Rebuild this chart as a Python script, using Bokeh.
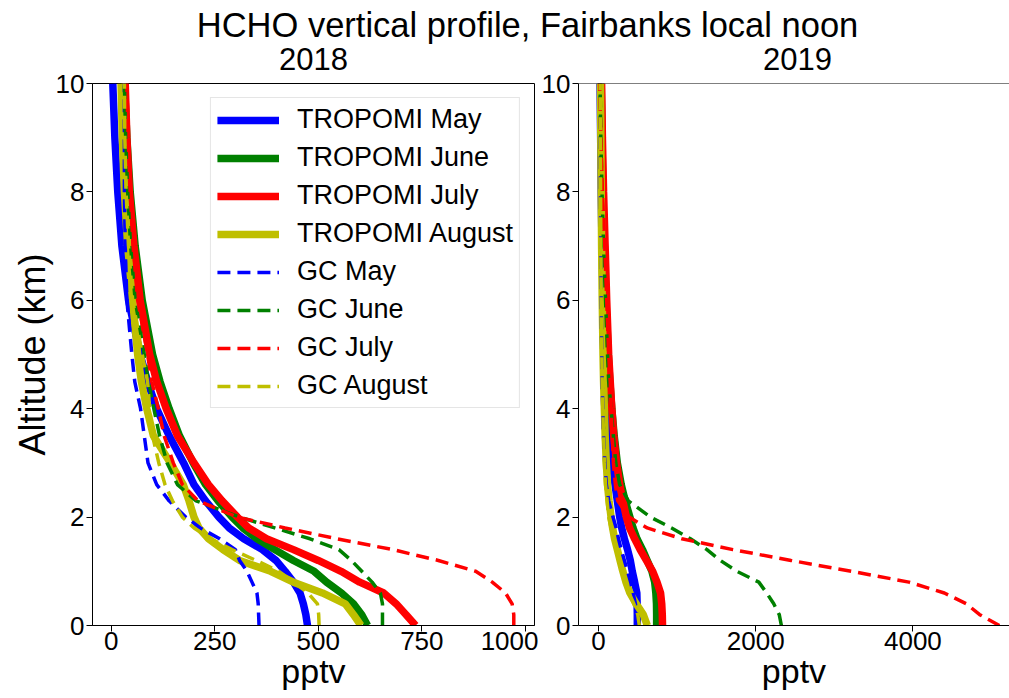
from bokeh.plotting import figure
from bokeh.layouts import column, row
from bokeh.models import Span, Label, FixedTicker, Range1d
from bokeh.embed import file_html
from bokeh.resources import INLINE

# Altitude levels (km)
alt = [0, 0.2, 0.4, 0.6, 0.8, 1.0, 1.2, 1.4, 1.6, 1.8, 2.0, 2.3, 2.6, 3.0, 3.5,
       4.0, 4.5, 5.0, 6.0, 7.0, 8.0, 9.0, 10.0]

# 2018 profiles (pptv)
trop18_may = [474, 470, 464, 456, 440, 420, 398, 365, 320, 285, 260, 228, 200, 175, 140,
              110, 88, 70, 42, 26, 16, 9, 4]
trop18_jun = [619, 605, 585, 556, 520, 490, 440, 395, 352, 318, 292, 258, 228, 198, 165,
              140, 118, 100, 75, 58, 46, 38, 32]
trop18_jul = [735, 712, 688, 658, 600, 555, 500, 440, 375, 332, 305, 268, 235, 200, 160,
              133, 110, 93, 70, 55, 44, 38, 34]
trop18_aug = [603, 585, 565, 510, 440, 385, 310, 270, 235, 212, 200, 188, 174, 143, 102,
              86, 73, 64, 52, 40, 32, 27, 24]
gc18_may = [357, 356, 355, 352, 340, 328, 310, 300, 262, 215, 180, 140, 110, 89, 80,
            71, 57, 50, 38, 34, 32, 32, 32]
gc18_jun = [655, 655, 655, 650, 630, 605, 580, 550, 480, 395, 310, 205, 160, 135, 117,
            103, 90, 80, 58, 47, 40, 35, 32]
gc18_jul = [972, 972, 968, 952, 920, 880, 790, 680, 545, 420, 305, 210, 172, 150, 128,
            114, 98, 88, 64, 53, 46, 41, 38]
gc18_aug = [502, 501, 498, 475, 440, 405, 350, 292, 240, 200, 172, 148, 130, 115, 100,
            93, 88, 75, 52, 42, 36, 33, 32]

# 2019 profiles (pptv)
trop19_may = [494, 494, 492, 488, 460, 430, 405, 370, 330, 295, 270, 240, 210, 180, 150,
              125, 100, 85, 60, 45, 35, 28, 20]
trop19_jun = [740, 740, 738, 730, 715, 680, 620, 560, 490, 440, 400, 340, 290, 240, 200,
              170, 145, 125, 95, 75, 55, 45, 35]
trop19_jul = [815, 812, 805, 790, 745, 690, 610, 530, 460, 395, 355, 310, 270, 230, 195,
              170, 150, 130, 105, 85, 65, 50, 40]
trop19_aug = [622, 570, 480, 400, 350, 310, 275, 240, 205, 180, 160, 135, 115, 100, 85,
              75, 65, 58, 48, 40, 35, 30, 25]
gc19_may = [490, 488, 470, 440, 410, 370, 330, 290, 255, 225, 185, 130, 100, 80, 65,
            55, 47, 42, 35, 30, 26, 24, 22]
gc19_jun = [2327, 2300, 2230, 2140, 2040, 1760, 1550, 1380, 1170, 930, 660, 380, 270, 220, 190,
            160, 130, 115, 90, 65, 45, 30, 20]
gc19_jul = [5100, 4850, 4680, 4400, 3950, 3220, 2450, 1710, 1060, 620, 390, 245, 215, 190, 175,
            160, 150, 130, 105, 80, 50, 30, 15]
gc19_aug = [520, 500, 450, 390, 340, 300, 260, 225, 190, 160, 130, 110, 90, 75, 65,
            55, 48, 42, 35, 30, 27, 24, 22]

months = ["May", "June", "July", "August"]
colors = ["#0000ff", "#008000", "#ff0000", "#bfbf00"]
trop18 = [trop18_may, trop18_jun, trop18_jul, trop18_aug]
gc18 = [gc18_may, gc18_jun, gc18_jul, gc18_aug]
trop19 = [trop19_may, trop19_jun, trop19_jul, trop19_aug]
gc19 = [gc19_may, gc19_jun, gc19_jul, gc19_aug]

x_ticks_2018 = [0, 250, 500, 750, 1000]
x_ticks_2019 = [0, 2000, 4000]
y_ticks = [0, 2, 4, 6, 8, 10]

FONT = "Liberation Sans"
TICK_FS = "26px"


def style_axes(p, xticks, show_ylabel):
    p.grid.visible = False
    for ax in (p.xaxis[0], p.yaxis[0]):
        ax.major_tick_in = 0
        ax.major_tick_out = 6
        ax.minor_tick_line_color = None
        ax.major_label_text_font = FONT
        ax.major_label_text_font_size = TICK_FS
        ax.major_label_text_color = "black"
        ax.axis_line_color = "black"
        ax.major_tick_line_color = "black"
        ax.axis_label_text_font = FONT
        ax.axis_label_text_font_style = "normal"
        ax.axis_label_text_color = "black"
    p.xaxis.ticker = FixedTicker(ticks=xticks)
    p.yaxis.ticker = FixedTicker(ticks=y_ticks)
    p.xaxis.axis_label = "pptv"
    p.xaxis.axis_label_text_font_size = "34px"
    p.xaxis.major_label_standoff = 0
    p.xaxis.axis_label_standoff = -1
    p.yaxis.major_label_standoff = 2
    if show_ylabel:
        p.yaxis.axis_label = "Altitude (km)"
        p.yaxis.axis_label_text_font_size = "36px"
        p.yaxis.axis_label_standoff = 0


# Heading strip: overall title and the two panel titles
TOP_H = 72
top = figure(width=1009, height=TOP_H, toolbar_location=None, output_backend="svg",
             x_range=Range1d(0, 1009), y_range=Range1d(0, TOP_H), title=None,
             x_axis_type=None, y_axis_type=None, min_border=0,
             outline_line_color=None)
top.grid.visible = False
top.add_layout(Label(x=527, y=48, text="HCHO vertical profile, Fairbanks local noon",
                     text_align="center", text_baseline="alphabetic",
                     text_font=FONT, text_font_size="34.5px", text_color="black"))
top.add_layout(Label(x=313, y=13.5, text="2018", text_align="center",
                     text_baseline="alphabetic", text_font=FONT, text_font_size="31px",
                     text_color="black"))
top.add_layout(Label(x=797, y=13.5, text="2019", text_align="center",
                     text_baseline="alphabetic", text_font=FONT, text_font_size="31px",
                     text_color="black"))

ROW_H = 698 - TOP_H
TOP_B = 11
BOT_B = 73

# 2018 panel
p1 = figure(width=538, height=ROW_H, toolbar_location=None, output_backend="svg",
            x_range=Range1d(-45, 1022), y_range=Range1d(0, 10), title=None,
            min_border_left=92, min_border_right=4, min_border_top=TOP_B,
            min_border_bottom=BOT_B)
p1.outline_line_color = "black"
style_axes(p1, x_ticks_2018, True)

for m, c, v in zip(months, colors, trop18):
    p1.line(v, alt, line_color=c, line_width=7.5, legend_label="TROPOMI " + m)
for m, c, v in zip(months, colors, gc18):
    p1.line(v, alt, line_color=c, line_width=3.5, line_dash="13 7", legend_label="GC " + m)

lg = p1.legend[0]
lg.location = "top_right"
lg.margin = 14
lg.padding = 6
lg.spacing = 7
lg.label_height = 30
lg.glyph_height = 30
lg.glyph_width = 62
lg.label_standoff = 18
lg.label_text_font = FONT
lg.label_text_font_size = "27px"
lg.label_text_color = "black"
lg.border_line_color = "#cccccc"
lg.border_line_width = 1
lg.background_fill_alpha = 0.8

# 2019 panel
p2 = figure(width=471, height=ROW_H, toolbar_location=None, output_backend="svg",
            x_range=Range1d(-254, 5229), y_range=Range1d(0, 10), title=None,
            min_border_left=40, min_border_right=0, min_border_top=TOP_B,
            min_border_bottom=BOT_B)
p2.outline_line_color = None
style_axes(p2, x_ticks_2019, False)
p2.add_layout(Span(location=10, dimension="width", line_color="black", line_width=1))

for c, v in zip(colors, trop19):
    p2.line(v, alt, line_color=c, line_width=7.5)
for c, v in zip(colors, gc19):
    p2.line(v, alt, line_color=c, line_width=3.5, line_dash="13 7")

layout = column(top, row(p1, p2, spacing=0), spacing=0)
open("out.html", "w").write(file_html(layout, INLINE))
